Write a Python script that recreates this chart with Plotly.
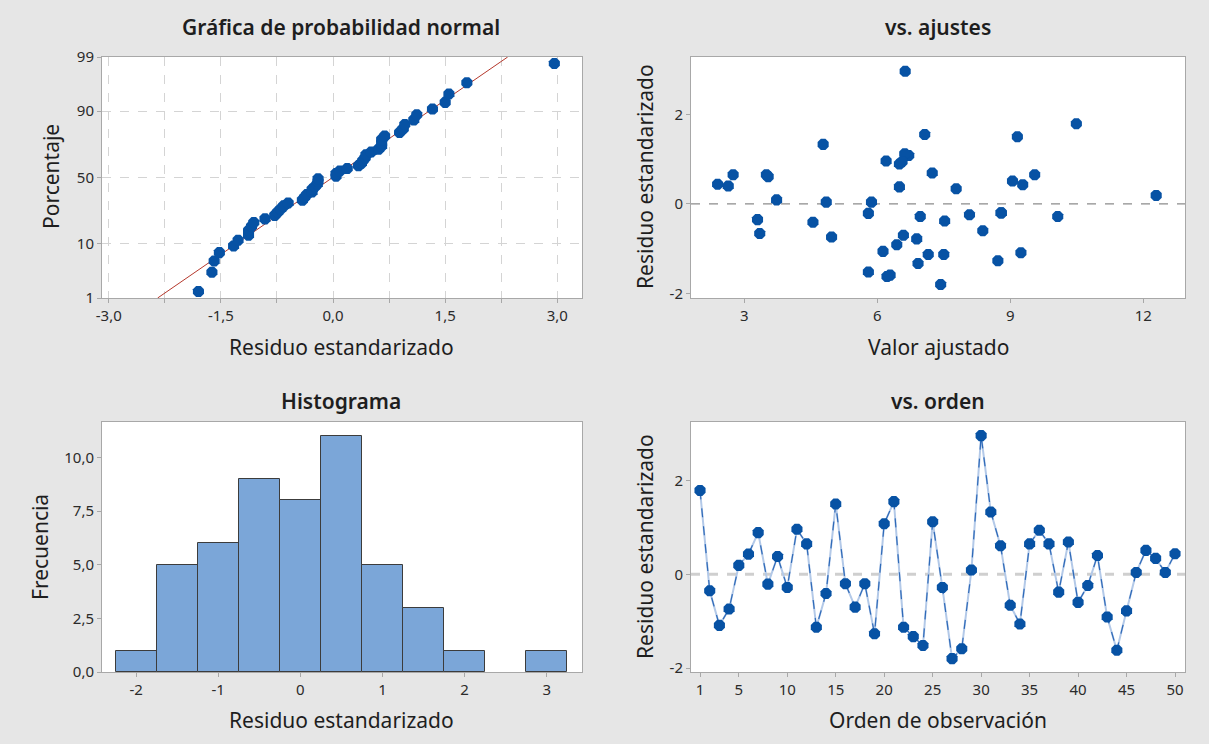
import numpy as np
import plotly.graph_objects as go
from statistics import NormalDist

# Standardized residuals, in observation order (1..50)
orden = list(range(1, 51))
residuos = [
    1.79, -0.35, -1.09, -0.74, 0.19, 0.43, 0.89, -0.21, 0.38, -0.28,
    0.96, 0.65, -1.13, -0.41, 1.50, -0.20, -0.70, -0.20, -1.27, 1.08,
    1.55, -1.13, -1.33, -1.52, 1.12, -0.28, -1.80, -1.59, 0.09, 2.96,
    1.33, 0.61, -0.66, -1.06, 0.65, 0.94, 0.65, -0.38, 0.69, -0.60,
    -0.24, 0.40, -0.91, -1.62, -0.78, 0.04, 0.51, 0.34, 0.04, 0.44,
]
# Fitted values for the same observations
ajustados = [
    10.49, 3.30, 9.24, 4.97, 12.29, 9.28, 6.50, 5.80, 6.50, 10.07,
    6.20, 3.50, 7.15, 4.55, 9.16, 8.79, 6.59, 8.80, 8.72, 6.71,
    7.07, 7.50, 6.92, 5.80, 6.62, 6.97, 7.43, 6.29, 3.73, 6.63,
    4.78, 3.54, 3.35, 6.13, 9.55, 6.56, 2.75, 7.52, 7.24, 8.38,
    8.08, 2.64, 6.44, 6.22, 6.89, 4.85, 9.05, 7.78, 5.87, 2.40,
]

# Tick positions / labels
prob_ticks = [1, 10, 50, 90, 99]
prob_x_ticks = [-3.0, -2.25, -1.5, -0.75, 0.0, 0.75, 1.5, 2.25, 3.0]
prob_x_labels = ["-3,0", "", "-1,5", "", "0,0", "", "1,5", "", "3,0"]
fit_x_ticks = [3, 6, 9, 12]
res_ticks = [-2, 0, 2]
res_labels = ["-2", "0", "2"]
hist_x_ticks = [-2, -1, 0, 1, 2, 3]
hist_x_labels = ["-2", "-1", "0", "1", "2", "3"]
hist_y_ticks = [0, 2.5, 5, 7.5, 10]
hist_y_labels = ["0,0", "2,5", "5,0", "7,5", "10,0"]
ord_ticks = [1, 5, 10, 15, 20, 25, 30, 35, 40, 45, 50]

BLUE = "#0752A4"
FONT = "Noto Sans"
W, H = 1209, 744

nd = NormalDist()
r = np.array(residuos)
n = len(r)
rs = np.sort(r)
pct = [(i - 0.3) / (n + 0.4) for i in range(1, n + 1)]
zq = [nd.inv_cdf(p) for p in pct]
mu, sd = r.mean(), r.std(ddof=1)
zline = [nd.inv_cdf(0.01), nd.inv_cdf(0.99)]
xline = [mu + sd * z for z in zline]


def px_dom(a, b, total):
    return [a / total, b / total]


def py_dom(top, bottom):
    return [1 - bottom / H, 1 - top / H]


fig = go.Figure()

# Normal probability plot
fig.add_trace(go.Scatter(x=xline, y=zline, mode="lines",
                         line=dict(color="#B5382C", width=1),
                         xaxis="x", yaxis="y", showlegend=False))
fig.add_trace(go.Scatter(x=rs, y=zq, mode="markers",
                         marker=dict(color=BLUE, size=12, symbol="octagon"),
                         xaxis="x", yaxis="y", showlegend=False))

# Residuals vs fitted
fig.add_trace(go.Scatter(x=ajustados, y=residuos, mode="markers",
                         marker=dict(color=BLUE, size=12, symbol="octagon"),
                         xaxis="x2", yaxis="y2", showlegend=False))

# Histogram
fig.add_trace(go.Histogram(x=residuos, xbins=dict(start=-2.25, end=3.25, size=0.5),
                           marker=dict(color="#7BA6D8", line=dict(color="#3C3C3C", width=1)),
                           xaxis="x3", yaxis="y3", showlegend=False))

# Residuals vs order: pale connector with darker dashes on top, then the points
fig.add_trace(go.Scatter(x=orden, y=residuos, mode="lines",
                         line=dict(color="#B3C9E8", width=2),
                         xaxis="x4", yaxis="y4", showlegend=False))
fig.add_trace(go.Scatter(x=orden, y=residuos, mode="lines+markers",
                         line=dict(color="#2F6AB8", width=1.2, dash="dash"),
                         marker=dict(color=BLUE, size=12, symbol="octagon"),
                         xaxis="x4", yaxis="y4", showlegend=False))

L1, R1 = 102, 582
L2, R2 = 691, 1185
T1, B1 = 57, 298
T2, B2 = 422, 672

axis_common = dict(showline=True, linecolor="#A8A8A8", linewidth=1, mirror=True,
                   ticks="outside", ticklen=4, tickcolor="#A8A8A8", zeroline=False,
                   automargin=False,
                   tickfont=dict(family=FONT, size=15, color="#2B2B2B"))
grid = dict(showgrid=True, gridcolor="#D4D4D4", griddash="dash", gridwidth=1)

fig.update_layout(
    width=W, height=H, autosize=False,
    margin=dict(l=0, r=0, t=0, b=0, pad=0, autoexpand=False),
    paper_bgcolor="#E6E6E6", plot_bgcolor="white",
    bargap=0,
    xaxis=dict(domain=px_dom(L1, R1, W), anchor="y", range=[-3.09, 3.33],
               tickmode="array", tickvals=prob_x_ticks, ticktext=prob_x_labels,
               **grid, **axis_common),
    yaxis=dict(domain=py_dom(T1, B1), anchor="x",
               range=[nd.inv_cdf(0.01), nd.inv_cdf(0.99)],
               tickmode="array", tickvals=[nd.inv_cdf(p / 100) for p in prob_ticks],
               ticktext=[str(p) for p in prob_ticks], **grid, **axis_common),
    xaxis2=dict(domain=px_dom(L2, R2, W), anchor="y2", range=[1.80, 12.94],
                tickmode="array", tickvals=fit_x_ticks, showgrid=False, **axis_common),
    yaxis2=dict(domain=py_dom(T1, B1), anchor="x2", range=[-2.10, 3.28],
                tickmode="array", tickvals=res_ticks, ticktext=res_labels,
                showgrid=False, **axis_common),
    xaxis3=dict(domain=px_dom(L1, R1, W), anchor="y3", range=[-2.415, 3.43],
                tickmode="array", tickvals=hist_x_ticks, ticktext=hist_x_labels,
                showgrid=False, **axis_common),
    yaxis3=dict(domain=py_dom(T2, B2), anchor="x3", range=[0, 11.65],
                tickmode="array", tickvals=hist_y_ticks, ticktext=hist_y_labels,
                showgrid=False, **axis_common),
    xaxis4=dict(domain=px_dom(L2, R2, W), anchor="y4", range=[0.07, 51.03],
                tickmode="array", tickvals=ord_ticks, showgrid=False, **axis_common),
    yaxis4=dict(domain=py_dom(T2, B2), anchor="x4", range=[-2.085, 3.25],
                tickmode="array", tickvals=res_ticks, ticktext=res_labels,
                showgrid=False, **axis_common),
    shapes=[
        dict(type="line", xref="x2 domain", yref="y2", x0=0, x1=1, y0=0, y1=0,
             line=dict(color="#8C8C8C", width=1.3, dash="dash"), layer="below"),
        dict(type="line", xref="x4 domain", yref="y4", x0=0, x1=1, y0=0, y1=0,
             line=dict(color="#CFCFCF", width=3, dash="dash"), layer="below"),
    ],
)


def add_text(x, y, text, size=16, weight="normal", angle=0):
    fig.add_annotation(x=x / W, y=1 - y / H, xref="paper", yref="paper",
                       text=text, showarrow=False,
                       textangle=angle, xanchor="center", yanchor="middle",
                       font=dict(family=FONT, size=size, color="#1E1E1E", weight=weight))


# Panel titles
add_text(341, 27, "Gráfica de probabilidad normal", size=21, weight=600)
add_text(938, 27, "vs. ajustes", size=21, weight=600)
add_text(341, 401, "Histograma", size=21, weight=600)
add_text(938, 401, "vs. orden", size=21, weight=600)

# Axis titles
add_text(341, 347, "Residuo estandarizado", size=21)
add_text(938, 347, "Valor ajustado", size=21)
add_text(341, 720, "Residuo estandarizado", size=21)
add_text(938, 720, "Orden de observación", size=21)
add_text(51, 177, "Porcentaje", size=21, angle=-90)
add_text(645, 177, "Residuo estandarizado", size=21, angle=-90)
add_text(40, 547, "Frecuencia", size=21, angle=-90)
add_text(645, 547, "Residuo estandarizado", size=21, angle=-90)

# Page body without the default browser margin
fig.write_html("out.html", post_script="document.body.style.margin='0';")
